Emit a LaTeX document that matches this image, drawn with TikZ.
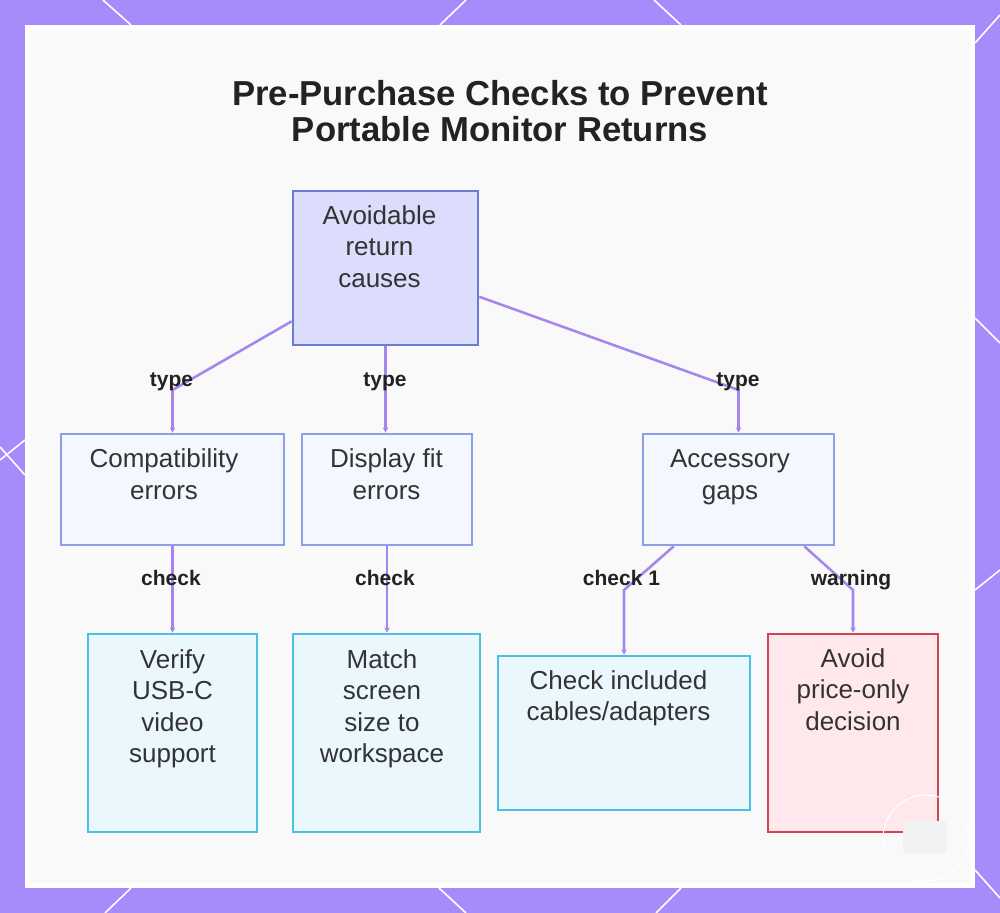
\documentclass[tikz,border=0pt]{standalone}
\usepackage{fontspec}
\setmainfont{Liberation Sans}
\usetikzlibrary{calc,arrows.meta}
\definecolor{violetbg}{HTML}{A78BFA}
\definecolor{panelgray}{HTML}{F9F9F9}
\definecolor{edgecol}{HTML}{A586EC}
\definecolor{rootfill}{HTML}{DCDCFC}
\definecolor{rootline}{HTML}{6E7BD4}
\definecolor{midfill}{HTML}{F5F7FF}
\definecolor{midline}{HTML}{8CA0E8}
\definecolor{leaffill}{HTML}{EAF8FE}
\definecolor{leafline}{HTML}{4DBFE4}
\definecolor{warnfill}{HTML}{FFE8EB}
\definecolor{warnline}{HTML}{D24452}
\definecolor{txtcol}{HTML}{333333}
\definecolor{ttlcol}{HTML}{222222}
\definecolor{badgegray}{HTML}{F0F2F2}
\begin{document}
\begin{tikzpicture}[x=0.75pt,y=-0.75pt,
  box/.style={line width=1.9pt, inner sep=0pt},
  sz/.style 2 args={minimum width=#1*0.75pt, minimum height=#2*0.75pt},
  rootbox/.style={box, fill=rootfill, draw=rootline},
  midbox/.style={box, fill=midfill, draw=midline},
  leafbox/.style={box, fill=leaffill, draw=leafline},
  warnbox/.style={box, fill=warnfill, draw=warnline},
  txt/.style={anchor=base, align=center, text=txtcol, inner sep=0pt,
    font=\fontsize{19.5}{23.6}\selectfont},
  lbl/.style={anchor=base, text=ttlcol, inner sep=0pt,
    font=\fontsize{15.75}{18}\selectfont\bfseries},
  edge/.style={draw=edgecol, line width=1.9pt, -{Stealth[length=4pt,width=4pt]}},
  deco/.style={draw=white, line width=1.2pt},
]
\useasboundingbox (0,0) rectangle (1000,913);
% background
\fill[violetbg] (0,0) rectangle (1000,913);
\draw[deco] (103,0) -- (131,25);
\draw[deco] (466,0) -- (440,25);
\draw[deco] (654,0) -- (681,25);
\draw[deco] (1000,15) -- (975,43);
\draw[deco] (131,888) -- (105,913);
\draw[deco] (439,888) -- (466,913);
\draw[deco] (681,888) -- (656,913);
\draw[deco] (975,870) -- (1000,898);
\draw[deco] (25,440) -- (0,460);
\draw[deco] (0,447) -- (25,475);
\draw[deco] (975,318) -- (1000,343);
\draw[deco] (1000,570) -- (975,590);
\fill[white] (25,25) rectangle (975,888);
\fill[panelgray] (30,30) rectangle (970,883);

% title (base anchor = baseline of last line)
\node[anchor=base, align=center, text=ttlcol, inner sep=0pt,
  font=\fontsize{26}{27}\selectfont\bfseries] (title) at (500,142)
  {Pre-Purchase Checks to Prevent\\Portable Monitor Returns};

% boxes
\node[rootbox, sz={185}{154}] (root) at (385.5,268) {};
\node[midbox, sz={223}{111}] (compat) at (172.5,489.5) {};
\node[midbox, sz={170}{111}] (disp) at (387,489.5) {};
\node[midbox, sz={191}{111}] (acc) at (738.5,489.5) {};
\node[leafbox, sz={169}{198}] (verify) at (172.5,733) {};
\node[leafbox, sz={187}{198}] (match) at (386.5,733) {};
\node[leafbox, sz={252}{154}] (check) at (624,733) {};
\node[warnbox, sz={170}{198}] (avoid) at (853,733) {};

% box texts (positions are the baseline of each last line)
\node[txt] (roott) at (379.5,287) {Avoidable\\return\\causes};
\node[txt] (compatt) at (164,499) {Compatibility\\errors};
\node[txt] (dispt) at (386.5,499) {Display fit\\errors};
\node[txt] (acct) at (730,499) {Accessory\\gaps};
\node[txt] (verifyt) at (172.5,762.5) {Verify\\USB-C\\video\\support};
\node[txt] (matcht) at (382,762.5) {Match\\screen\\size to\\workspace};
\node[txt] (checkt) at (618.5,720.5) {Check included\\cables/adapters};
\node[txt] (avoidt) at (853,730) {Avoid\\price-only\\decision};

% connectors
\draw[edge] ($(root.south west)+(0,-25)$) -- (compat.north |- 0,390) -- (compat.north);
\draw[edge] (root.south) -- (root.south |- disp.north);
\draw[edge] ($(root.north east)+(0,107)$) -- (acc.north |- 0,390) -- (acc.north);
\draw[edge] (compat.south) -- (verify.north);
\draw[edge] (disp.south) -- (disp.south |- match.north);
\draw[edge] ($(acc.south west)+(32,0)$) -- (check.north |- 0,590) -- (check.north);
\draw[edge] ($(acc.south east)+(-31,0)$) -- (avoid.north |- 0,590) -- (avoid.north);

% edge labels
\node[lbl] (l1) at (171.5,386) {type};
\node[lbl] (l2) at (385,386) {type};
\node[lbl] (l3) at (738,386) {type};
\node[lbl] (l4) at (171,585) {check};
\node[lbl] (l5) at (385,585) {check};
\node[lbl] (l6) at (621.5,585) {check 1};
\node[lbl] (l7) at (851,585) {warning};

% corner badge
\draw[white, line width=0.8pt] (926,838) circle[radius=43];
\fill[badgegray, rounded corners=2pt] (903,821) rectangle (946,853);
\end{tikzpicture}
\end{document}
